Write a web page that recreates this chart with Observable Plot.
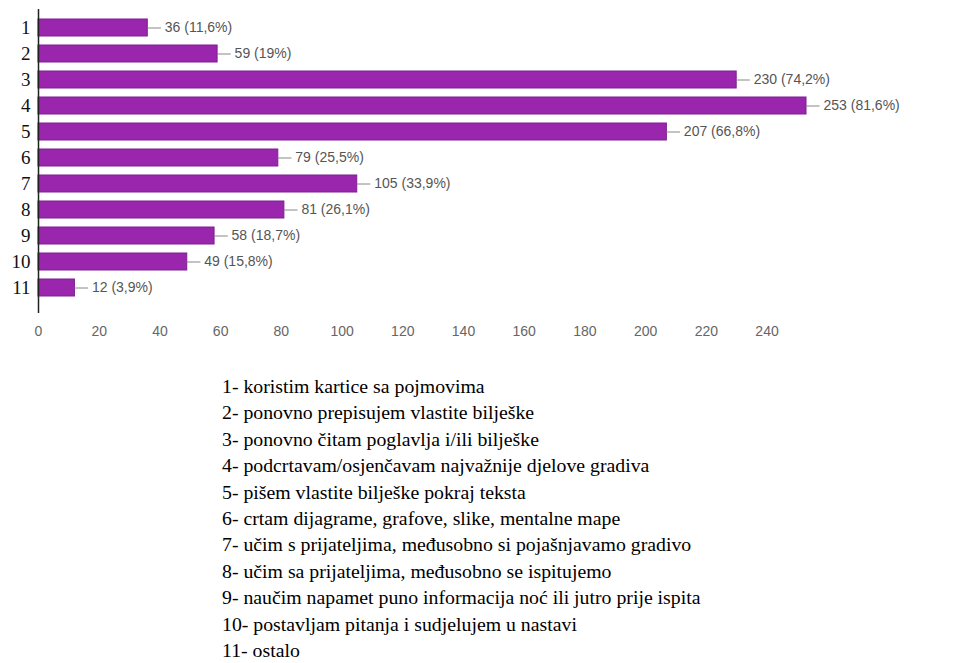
<!DOCTYPE html>
<html>
<head>
<meta charset="utf-8">
<script src="https://cdn.jsdelivr.net/npm/d3@7"></script>
<script src="https://cdn.jsdelivr.net/npm/@observablehq/plot@0.6"></script>
<style>
  html, body { margin: 0; padding: 0; background: #fff; }
  #wrap { position: relative; width: 967px; height: 663px; overflow: hidden; }
  #legend { position: absolute; left: 222px; top: 373px; color: #000; white-space: nowrap; }
</style>
</head>
<body>
<div id="wrap">
  <div id="chart"></div>
  <div id="legend"></div>
</div>
<script>
const categories = ["1","2","3","4","5","6","7","8","9","10","11"];
const counts = [36, 59, 230, 253, 207, 79, 105, 81, 58, 49, 12];
const percents = ["11,6%", "19%", "74,2%", "81,6%", "66,8%", "25,5%", "33,9%", "26,1%", "18,7%", "15,8%", "3,9%"];
const xTicks = [0, 20, 40, 60, 80, 100, 120, 140, 160, 180, 200, 220, 240];
const legendItems = [
  "1- koristim kartice sa pojmovima",
  "2- ponovno prepisujem vlastite bilješke",
  "3- ponovno čitam poglavlja i/ili bilješke",
  "4- podcrtavam/osjenčavam najvažnije djelove gradiva",
  "5- pišem vlastite bilješke pokraj teksta",
  "6- crtam dijagrame, grafove, slike, mentalne mape",
  "7- učim s prijateljima, međusobno si pojašnjavamo gradivo",
  "8- učim sa prijateljima, međusobno se ispitujemo",
  "9- naučim napamet puno informacija noć ili jutro prije ispita",
  "10- postavljam pitanja i sudjelujem u nastavi",
  "11- ostalo"
];

const data = categories.map((c, i) => ({cat: c, v: counts[i], label: `${counts[i]} (${percents[i]})`}));

const chart = Plot.plot({
  width: 967,
  height: 353,
  marginLeft: 38,
  marginRight: 161,
  marginTop: 9,
  marginBottom: 40,
  style: {background: "transparent", overflow: "visible"},
  x: {domain: [0, 253], axis: null},
  y: {domain: categories, padding: 0.35, insetBottom: 7, axis: null},
  marks: [
    Plot.barX(data, {y: "cat", x: "v", fill: "#9a26ad", stroke: "#7d1f8f", strokeWidth: 1}),
    Plot.ruleY(data, {y: "cat", x1: "v", x2: d => d.v + 4.5, stroke: "#888", strokeWidth: 1}),
    Plot.text(data, {y: "cat", x: "v", text: "label", textAnchor: "start", dx: 17, fill: "#555", fontSize: 14, fontFamily: "Liberation Sans, Arial, sans-serif"}),
    Plot.ruleX([0], {stroke: "#222", strokeWidth: 1.5}),
    Plot.axisX({ticks: xTicks, tickSize: 0, tickPadding: 13, line: true, stroke: "#666", strokeWidth: 2, fill: "#666", fontSize: 14, fontFamily: "Liberation Sans, Arial, sans-serif", label: null}),
    Plot.axisY({tickSize: 0, tickPadding: 8, fill: "#111", fontSize: 19, fontFamily: "Liberation Serif, Times New Roman, serif", label: null})
  ]
});
document.getElementById("chart").appendChild(chart);

const leg = document.getElementById("legend");
legendItems.forEach(t => {
  const d = document.createElement("div");
  d.textContent = t;
  d.style.fontFamily = "'Liberation Serif', 'Times New Roman', serif";
  d.style.fontSize = "19.8px";
  d.style.lineHeight = "26.4px";
  leg.appendChild(d);
});
</script>
</body>
</html>
